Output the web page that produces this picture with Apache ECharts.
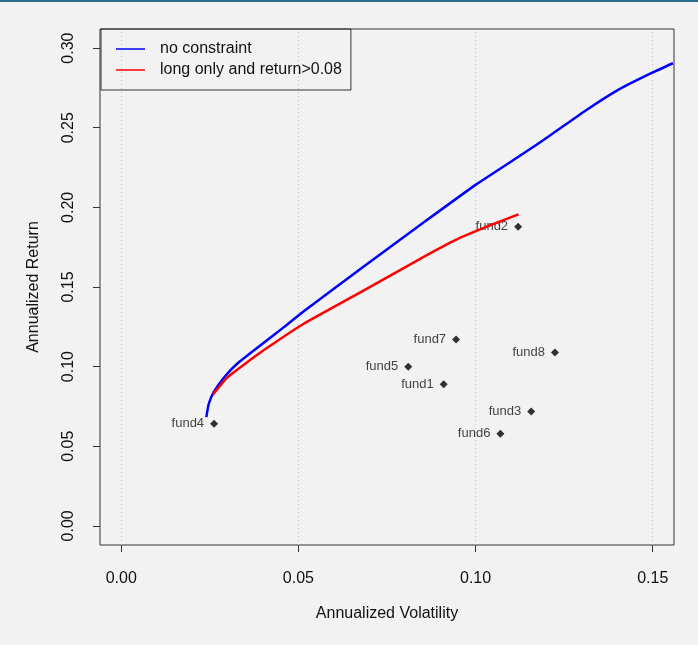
<!DOCTYPE html>
<html>
<head>
<meta charset="utf-8">
<script src="https://cdn.jsdelivr.net/npm/echarts@6/dist/echarts.min.js"></script>
<style>
  html, body { margin: 0; padding: 0; background: #f2f2f2; }
  #frame { position: relative; width: 698px; height: 645px; }
  #topline { position: absolute; left: 0; top: 0; width: 698px; height: 2px; background: #2b6c8f; z-index: 5; }
  #chart { width: 698px; height: 645px; }
</style>
</head>
<body>
<div id="frame">
  <div id="topline"></div>
  <div id="chart"></div>
</div>
<script>
// tick labels
var xTicks = [0, 0.05, 0.10, 0.15];
var yTicks = [0, 0.05, 0.10, 0.15, 0.20, 0.25, 0.30];

// efficient frontier, no constraint (volatility, return)
var freeVol = [0.0240, 0.0247, 0.0261, 0.0290, 0.0327, 0.0393, 0.0459, 0.0516, 0.0671,
               0.0855, 0.1001, 0.1152, 0.1217, 0.1312, 0.1406, 0.1500, 0.1557];
var freeRet = [0.0683, 0.0767, 0.0840, 0.0932, 0.1018, 0.1134, 0.1248, 0.1350, 0.1607,
               0.1908, 0.2143, 0.2363, 0.2462, 0.2610, 0.2742, 0.2847, 0.2905];

// frontier, long only and return > 0.08
var longVol = [0.0259, 0.0299, 0.0346, 0.0412, 0.0516, 0.0676, 0.0855, 0.0944, 0.1035, 0.1121];
var longRet = [0.0826, 0.0931, 0.1012, 0.1118, 0.1271, 0.1468, 0.1691, 0.1796, 0.1882, 0.1956];

// single funds
var fundNames = ['fund1', 'fund2', 'fund3', 'fund4', 'fund5', 'fund6', 'fund7', 'fund8'];
var fundVol = [0.0910, 0.1120, 0.1157, 0.0262, 0.0810, 0.1070, 0.0945, 0.1224];
var fundRet = [0.0889, 0.1878, 0.0718, 0.0641, 0.1000, 0.0578, 0.1170, 0.1088];

function pairs(xs, ys) {
  return xs.map(function (x, i) { return [x, ys[i]]; });
}

var txt = '#111';
var font = 'Liberation Sans, Arial, sans-serif';

var chart = echarts.init(document.getElementById('chart'));

var option = {
  backgroundColor: '#f2f2f2',
  animation: false,
  textStyle: { fontFamily: font },
  grid: {
    left: 100, right: 24, top: 29, bottom: 100,
    show: true, borderColor: '#333', borderWidth: 1, backgroundColor: 'transparent'
  },
  legend: {
    left: 101, top: 29,
    orient: 'vertical',
    data: ['no constraint', 'long only and return>0.08'],
    icon: 'rect',
    itemWidth: 29, itemHeight: 1.5,
    itemGap: 5,
    padding: [12, 9, 12, 15],
    borderColor: '#333', borderWidth: 1,
    textStyle: { fontSize: 16, color: txt, fontFamily: font, padding: [0, 0, 0, 10] }
  },
  xAxis: {
    type: 'value',
    min: -0.006, max: 0.156,
    name: 'Annualized Volatility',
    nameLocation: 'middle',
    nameGap: 61,
    nameTextStyle: { fontSize: 16, color: txt },
    axisLine: { show: false, onZero: false },
    axisTick: { show: true, length: 7, customValues: xTicks, lineStyle: { color: '#333' } },
    axisLabel: {
      customValues: xTicks, margin: 26, fontSize: 16, color: txt,
      formatter: function (v) { return v.toFixed(2); }
    },
    splitLine: { show: false }
  },
  yAxis: {
    type: 'value',
    min: -0.012, max: 0.312,
    name: 'Annualized Return',
    nameLocation: 'middle',
    nameGap: 58,
    nameTextStyle: { fontSize: 16, color: txt },
    axisLine: { show: false, onZero: false },
    axisTick: { show: true, length: 7, customValues: yTicks, lineStyle: { color: '#333' } },
    axisLabel: {
      customValues: yTicks, margin: 23, fontSize: 16, color: txt, rotate: 90,
      formatter: function (v) { return v.toFixed(2); }
    },
    splitLine: { show: false }
  },
  series: [
    {
      name: 'grid',
      type: 'line',
      z: 1,
      data: [],
      markLine: {
        silent: true,
        symbol: 'none',
        z: 1,
        label: { show: false },
        lineStyle: { type: [1, 3], color: '#c4c4c4', width: 1 },
        data: xTicks.map(function (v) { return { xAxis: v }; })
      }
    },
    {
      name: 'funds',
      type: 'scatter',
      z: 2,
      symbol: 'diamond',
      symbolSize: 8,
      itemStyle: { color: '#000' },
      label: {
        show: true, position: 'left', distance: 6,
        fontSize: 13, color: txt,
        formatter: function (p) { return fundNames[p.dataIndex]; }
      },
      data: pairs(fundVol, fundRet)
    },
    {
      name: 'no constraint',
      type: 'line',
      z: 3,
      smooth: 0.15,
      showSymbol: false,
      lineStyle: { color: '#0000ff', width: 2.5, join: 'round' },
      itemStyle: { color: '#0000ff' },
      data: pairs(freeVol, freeRet)
    },
    {
      name: 'long only and return>0.08',
      type: 'line',
      z: 4,
      smooth: 0.15,
      showSymbol: false,
      lineStyle: { color: '#ff0000', width: 2.5, join: 'round' },
      itemStyle: { color: '#ff0000' },
      data: pairs(longVol, longRet)
    }
  ]
};

chart.setOption(option);
</script>
</body>
</html>
